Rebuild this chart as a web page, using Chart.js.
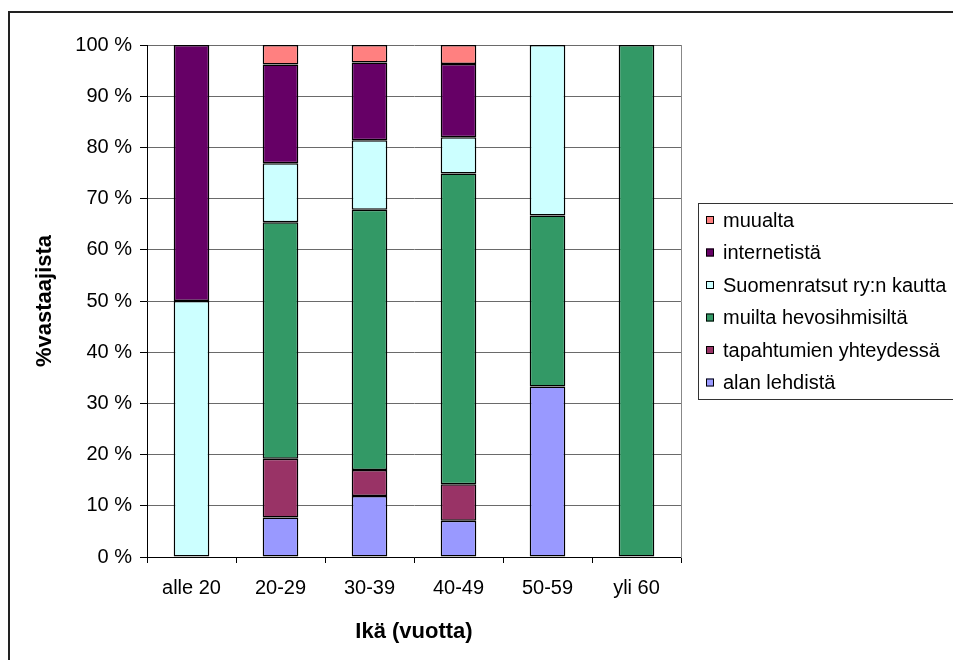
<!DOCTYPE html>
<html>
<head>
<meta charset="utf-8">
<script src="https://cdn.jsdelivr.net/npm/chart.js@4"></script>
<style>
  html, body { margin: 0; padding: 0; background: #fff; }
  #wrap { width: 953px; height: 660px; }
</style>
</head>
<body>
<div id="wrap"><canvas id="chart" width="953" height="660"></canvas></div>
<script>
// age groups on the x axis
const ageGroups = ['alle 20', '20-29', '30-39', '40-49', '50-59', 'yli 60'];

// share of respondents (%) per source, bottom of the stack first
const alanLehdista = [0, 7.7, 11.9, 7.1, 33.3, 0];
const tapahtumienYhteydessa = [0, 11.5, 5.1, 7.1, 0, 0];
const muiltaHevosihmisilta = [0, 46.2, 50.8, 60.7, 33.4, 100];
const suomenratsutKautta = [50, 11.5, 13.6, 7.1, 33.3, 0];
const internetista = [50, 19.3, 15.2, 14.3, 0, 0];
const muualta = [0, 3.8, 3.4, 3.7, 0, 0];

const yTicks = [0, 10, 20, 30, 40, 50, 60, 70, 80, 90, 100];

const FONT = "'Liberation Sans', Arial, sans-serif";

const series = [
    { label: 'alan lehdistä', data: alanLehdista, color: '#9999FF' },
    { label: 'tapahtumien yhteydessä', data: tapahtumienYhteydessa, color: '#993366' },
    { label: 'muilta hevosihmisiltä', data: muiltaHevosihmisilta, color: '#339966' },
    { label: 'Suomenratsut ry:n kautta', data: suomenratsutKautta, color: '#CCFFFF' },
    { label: 'internetistä', data: internetista, color: '#660066' },
    { label: 'muualta', data: muualta, color: '#FF8080' },
];

// frame around the whole chart + legend box on the right
const framePlugin = {
    id: 'frame',
    afterDraw(chart) {
        const ctx = chart.ctx;
        ctx.save();
        ctx.strokeStyle = '#222';
        ctx.lineWidth = 2;
        ctx.strokeRect(9, 12, 960, 700);

        // legend
        const lx = 698, ly = 203, lh = 196;
        ctx.lineWidth = 1;
        ctx.strokeStyle = '#333';
        ctx.strokeRect(lx + 0.5, ly + 0.5, 300, lh);
        ctx.font = '20px ' + FONT;
        ctx.textBaseline = 'middle';
        const items = chart.data.datasets.slice().reverse();
        items.forEach((ds, i) => {
            const y = 220 + i * 32.5;
            ctx.fillStyle = ds.backgroundColor;
            ctx.fillRect(706, y - 4, 8, 8);
            ctx.strokeStyle = '#000';
            ctx.strokeRect(706.5, y - 3.5, 7, 7);
            ctx.fillStyle = '#000';
            ctx.fillText(ds.label, 723, y + 1);
        });
        ctx.restore();
    }
};

new Chart(document.getElementById('chart'), {
    type: 'bar',
    data: {
        labels: ageGroups,
        datasets: series.map((s) => ({
            label: s.label,
            data: s.data.map((v) => (v === 0 ? null : v)),
            backgroundColor: s.color,
            borderColor: '#000',
            borderWidth: 1.5,
            borderSkipped: false,
            barPercentage: 0.4,
            categoryPercentage: 1,
        })),
    },
    options: {
        responsive: false,
        animation: false,
        events: [],
        layout: { padding: { left: 0, right: 272, top: 45, bottom: 0 } },
        plugins: {
            legend: { display: false },
            tooltip: { enabled: false },
        },
        scales: {
            x: {
                stacked: true,
                afterFit: (scale) => { scale.height = 103; },
                grid: {
                    offset: true,
                    drawOnChartArea: false,
                    color: '#000',
                    tickLength: 6,
                },
                border: { color: '#000', width: 1 },
                ticks: {
                    color: '#000',
                    padding: 13,
                    font: { family: FONT, size: 20 },
                },
                title: {
                    display: true,
                    text: 'Ikä (vuotta)',
                    color: '#000',
                    font: { family: FONT, size: 22, weight: 'bold' },
                    padding: { top: 0, bottom: 15 },
                },
            },
            y: {
                stacked: true,
                min: 0,
                max: 100,
                afterFit: (scale) => { scale.width = 147; },
                afterBuildTicks: (scale) => { scale.ticks = yTicks.map((v) => ({ value: v })); },
                grid: {
                    color: '#6a6a6a',
                    tickColor: '#000',
                    tickLength: 7,
                },
                border: { color: '#000', width: 1 },
                ticks: {
                    color: '#000',
                    padding: 8,
                    font: { family: FONT, size: 20 },
                    callback: (v) => v + ' %',
                },
                title: {
                    display: true,
                    text: '%vastaajista',
                    color: '#000',
                    font: { family: FONT, size: 22, weight: 'bold' },
                    padding: { top: 32, bottom: 0 },
                },
            },
            y2: {
                position: 'right',
                min: 0,
                max: 100,
                afterFit: (scale) => { scale.width = 0; },
                grid: { drawOnChartArea: false, drawTicks: false },
                border: { color: '#888', width: 1 },
                ticks: { display: false },
            },
        },
    },
    plugins: [framePlugin],
});
</script>
</body>
</html>
